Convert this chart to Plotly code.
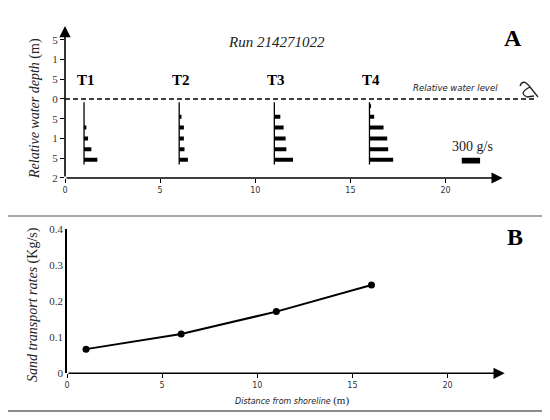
import plotly.graph_objects as go

# ---------------- data ----------------
stations = [1, 6, 11, 16]
station_labels = ["T1", "T2", "T3", "T4"]
depth_levels = [-0.18, -0.45, -0.72, -1.0, -1.27, -1.54]
flux_T1 = [0, 0, 38, 66, 120, 218]      # g/s
flux_T2 = [0, 38, 77, 77, 87, 143]
flux_T3 = [0, 98, 152, 185, 197, 306]
flux_T4 = [25, 77, 230, 290, 306, 388]
scale_flux = [300]                      # g/s reference bar
scale_bar_depth = [-1.56]
scale_bar_start = [20.85]
transport_rates = [0.067, 0.109, 0.171, 0.245]   # Kg/s

ytick_vals_A = [1.5, 1, 0.5, 0, -0.5, -1, -1.5, -2]
ytick_text_A = ["5", "1", "5", "0", "5", "1", "5", "2"]
xtick_vals = [0, 5, 10, 15, 20]
xtick_text = ["0", "5", "10", "15", "20"]
ytick_vals_B = [0, 0.1, 0.2, 0.3, 0.4]
ytick_text_B = ["0", "0.1", "0.2", "0.3", "0.4"]

# ---------------- layout helpers ----------------
OFF = 8   # page body margin offset
W, H = 550 - OFF, 420 - 2 * OFF
def px(x):
    return (x - OFF) / W
def py(y):
    return 1 - (y - OFF) / H

M_PER_GS = 0.962 / 300.0   # bar length (m on x axis) per g/s
SERIF = "Liberation Serif"
SANS = "DejaVu Sans"

fig = go.Figure()

fluxes = [flux_T1, flux_T2, flux_T3, flux_T4]
for st, fl in zip(stations, fluxes):
    fig.add_trace(go.Bar(
        orientation="h", y=depth_levels, x=[f * M_PER_GS for f in fl],
        base=st, width=0.1, marker=dict(color="black", line=dict(width=0)),
        xaxis="x", yaxis="y", showlegend=False, hoverinfo="skip"))

fig.add_trace(go.Bar(
    orientation="h", y=scale_bar_depth, x=[f * M_PER_GS for f in scale_flux],
    base=scale_bar_start, width=0.15, marker=dict(color="black", line=dict(width=0)),
    xaxis="x", yaxis="y", showlegend=False, hoverinfo="skip"))

fig.add_trace(go.Scatter(
    x=stations, y=transport_rates, mode="lines+markers",
    line=dict(color="black", width=2), marker=dict(color="black", size=7),
    xaxis="x2", yaxis="y2", showlegend=False))

# station vertical lines and water level
shapes = []
for st in stations:
    shapes.append(dict(type="line", xref="x", yref="y", x0=st, x1=st, y0=-0.08, y1=-1.66,
                       line=dict(color="black", width=1.3)))
shapes.append(dict(type="line", xref="x", yref="y", x0=0, x1=24.8, y0=0, y1=0,
                   line=dict(color="black", width=1.3, dash="5px,3px")))

# frame
shapes += [
    dict(type="line", xref="paper", yref="paper", x0=px(6), x1=px(545), y0=py(5), y1=py(5),
         line=dict(color="#b5b5b5", width=1.2)),
    dict(type="line", xref="paper", yref="paper", x0=px(6), x1=px(6), y0=py(5), y1=py(411),
         line=dict(color="#e2e2e2", width=1)),
    dict(type="line", xref="paper", yref="paper", x0=px(545), x1=px(545), y0=py(5), y1=py(411),
         line=dict(color="#777777", width=1.5)),
    dict(type="line", xref="paper", yref="paper", x0=px(6), x1=px(545), y0=py(216), y1=py(216),
         line=dict(color="#8a8a8a", width=1.5)),
    dict(type="line", xref="paper", yref="paper", x0=px(6), x1=px(545), y0=py(411), y1=py(411),
         line=dict(color="#666666", width=1.5)),
]

# wave glyph near "Relative water level"
def path(cmds):
    out = []
    for c, pts in cmds:
        out.append(c + " " + " ".join(f"{px(x):.5f},{py(y):.5f}" for x, y in pts))
    return " ".join(out)

wave = path([("M", [(520, 86)]), ("Q", [(523, 78), (530, 87)]), ("L", [(538, 97)]),
             ("M", [(530, 87)]), ("Q", [(518, 93), (527, 97)]), ("L", [(534, 96)])])
shapes.append(dict(type="path", xref="paper", yref="paper", path=wave,
                   line=dict(color="#222", width=1.3)))

ann = []
# axis arrows
ann.append(dict(xref="x", yref="y", axref="x", ayref="y", x=0, y=1.85, ax=0, ay=-2,
                text="", showarrow=True, arrowhead=2, arrowsize=1.4, arrowwidth=1.6,
                arrowcolor="black"))
ann.append(dict(xref="x", yref="y", axref="x", ayref="y", x=23, y=-2, ax=0, ay=-2,
                text="", showarrow=True, arrowhead=2, arrowsize=1.4, arrowwidth=1.6,
                arrowcolor="black"))
ann.append(dict(xref="x2", yref="y2", axref="x2", ayref="y2", x=23, y=0, ax=0, ay=0,
                text="", showarrow=True, arrowhead=2, arrowsize=1.4, arrowwidth=1.6,
                arrowcolor="black"))

def label(x, y, text, font, xref="paper", yref="paper", **kw):
    d = dict(xref=xref, yref=yref, x=x, y=y, text=text, showarrow=False,
             xanchor="center", yanchor="middle", font=font)
    d.update(kw)
    return d

for st, lab in zip(stations, station_labels):
    ann.append(label(st + 0.1, py(80), f"<b>{lab}</b>",
                     dict(family=SERIF, size=15, color="black"), xref="x"))

ann += [
    label(px(276), py(42), "<i>Run 214271022</i>", dict(family=SERIF, size=15, color="#222")),
    label(px(513), py(38), "<b>A</b>", dict(family=SERIF, size=24, color="black")),
    label(px(515), py(237), "<b>B</b>", dict(family=SERIF, size=24, color="black")),
    label(px(455), py(88), "<i>Relative water level</i>", dict(family=SANS, size=8.5, color="#222")),
    label(px(472), py(146), "300 g/s", dict(family=SERIF, size=14, color="#222")),
    label(px(35), py(109), "<i>Relative water depth</i> (m)",
          dict(family=SERIF, size=14, color="#222"), textangle=-90),
    label(px(33), py(305), "<i>Sand transport rates</i> (Kg/s)",
          dict(family=SERIF, size=14, color="#222"), textangle=-90),
    label(px(292), py(400),
          "<i>Distance from shoreline</i> <span style='font-family:Liberation Serif;font-size:11px'>(m)</span>",
          dict(family=SANS, size=8, color="#222")),
]

tickfont_x = dict(family=SANS, size=8, color="#333")
tickfont_y = dict(family=SERIF, size=11, color="#333")

fig.update_layout(
    width=W, height=H, autosize=False,
    margin=dict(l=0, r=0, t=0, b=0, autoexpand=False),
    paper_bgcolor="white", plot_bgcolor="rgba(0,0,0,0)",
    barmode="overlay",
    showlegend=False,
    xaxis=dict(domain=[px(65), px(65 + 25 * 19.03)], range=[0, 25], anchor="y",
               showline=False, showgrid=False, zeroline=False,
               ticks="outside", ticklen=4, tickwidth=1, tickcolor="black",
               tickvals=xtick_vals, ticktext=xtick_text, tickfont=tickfont_x),
    yaxis=dict(domain=[py(178), py(99 - 1.85 * 39.5)], range=[-2, 1.85], anchor="x",
               showline=False, showgrid=False, zeroline=False,
               ticks="outside", ticklen=4, tickwidth=1, tickcolor="black",
               tickvals=ytick_vals_A, ticktext=ytick_text_A, tickfont=tickfont_y),
    xaxis2=dict(domain=[px(67), px(67 + 25 * 19.03)], range=[0, 25], anchor="y2",
                showline=False, showgrid=False, zeroline=False,
                ticks="outside", ticklen=4, tickwidth=1, tickcolor="black",
                tickvals=xtick_vals, ticktext=xtick_text, tickfont=tickfont_x),
    yaxis2=dict(domain=[py(373.3), py(229)], range=[0, 0.4], anchor="x2",
                showline=True, linecolor="black", linewidth=1.6,
                showgrid=False, zeroline=False, ticks="",
                tickvals=ytick_vals_B, ticktext=ytick_text_B, tickfont=tickfont_y),
    shapes=shapes,
    annotations=ann,
)

fig.write_html("out.html")
